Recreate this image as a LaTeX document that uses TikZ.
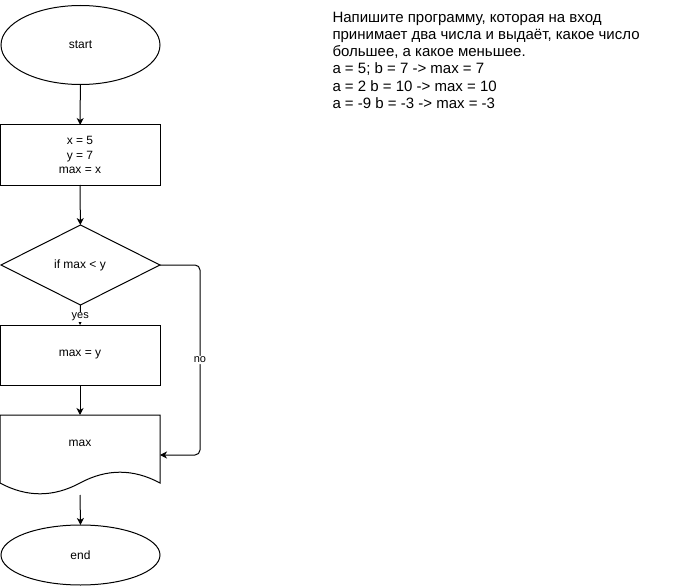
\documentclass[tikz,border=0pt]{standalone}
\usepackage{fontspec}
\setmainfont{Liberation Sans}
\usetikzlibrary{shapes.geometric,arrows.meta}
\begin{document}
\begin{tikzpicture}[x=1pt,y=-1pt, line width=1pt,
  term/.style={ellipse, draw, minimum width=159pt, minimum height=79pt, inner sep=0pt, outer sep=0pt, font=\fontsize{12}{14.4}\selectfont},
  proc/.style={rectangle, draw, minimum width=160pt, minimum height=60pt, inner sep=0pt, outer sep=0pt, align=center, font=\fontsize{12}{14.4}\selectfont},
  arr/.style={-{Stealth[length=7pt,width=7pt,inset=2pt]}},
  lbl/.style={fill=white, inner sep=1pt, font=\fontsize{11}{13}\selectfont}]
\useasboundingbox (0,0) rectangle (681,586);
\node[term] (start) at (80.5,45){start};
\node[proc] (init) at (80,155){x = 5\\y = 7\\max = x};
\node[diamond, draw, minimum width=159pt, minimum height=80pt, aspect=2, inner sep=0pt, outer sep=0pt, font=\fontsize{12}{14.4}\selectfont] (cond) at (80.5,265){};
\node[font=\fontsize{12}{14.4}\selectfont] (condtxt) at (80,265){if max < y};
\node[proc] (upd) at (80,355){max = y};
\node[rectangle, minimum width=160pt, minimum height=80pt, inner sep=0pt, outer sep=0pt] (out) at (80,455){};
\node[font=\fontsize{12}{14.4}\selectfont] (outtxt) at (80,443){max};
\node[term, minimum height=60pt] (stop) at (80.5,555){end};
\draw[](out.south west) ++(0,-12) -- (out.north west) -- (out.north east) -- ++(0,68)
  .. controls (133.3,468.6) and (106.7,468.6) .. (80,483)
  .. controls (53.3,497.4) and (26.7,497.4) .. (0,483);
\draw[arr](start) -- (init);
\draw[arr](init) -- (cond);
\draw[arr](cond.south) -- node[lbl, yshift=-2pt]{yes} (upd.north);
\draw[arr](upd) -- (out);
\draw[arr, rounded corners=5pt](cond.east) -- (200,265) -- node[lbl]{no} (200,455) -- (out.east);
\draw[arr](out.south) -- (stop.north);
\node[anchor=north west, align=left, inner sep=0pt, font=\fontsize{15}{17.2}\selectfont] (task) at (332,11.5){Напишите программу, которая на вход\\принимает два числа и выдаёт, какое число\\большее, а какое меньшее.\\a = 5; b = 7 -> max = 7\\a = 2 b = 10 -> max = 10\\a = -9 b = -3 -> max = -3};
\end{tikzpicture}
\end{document}
